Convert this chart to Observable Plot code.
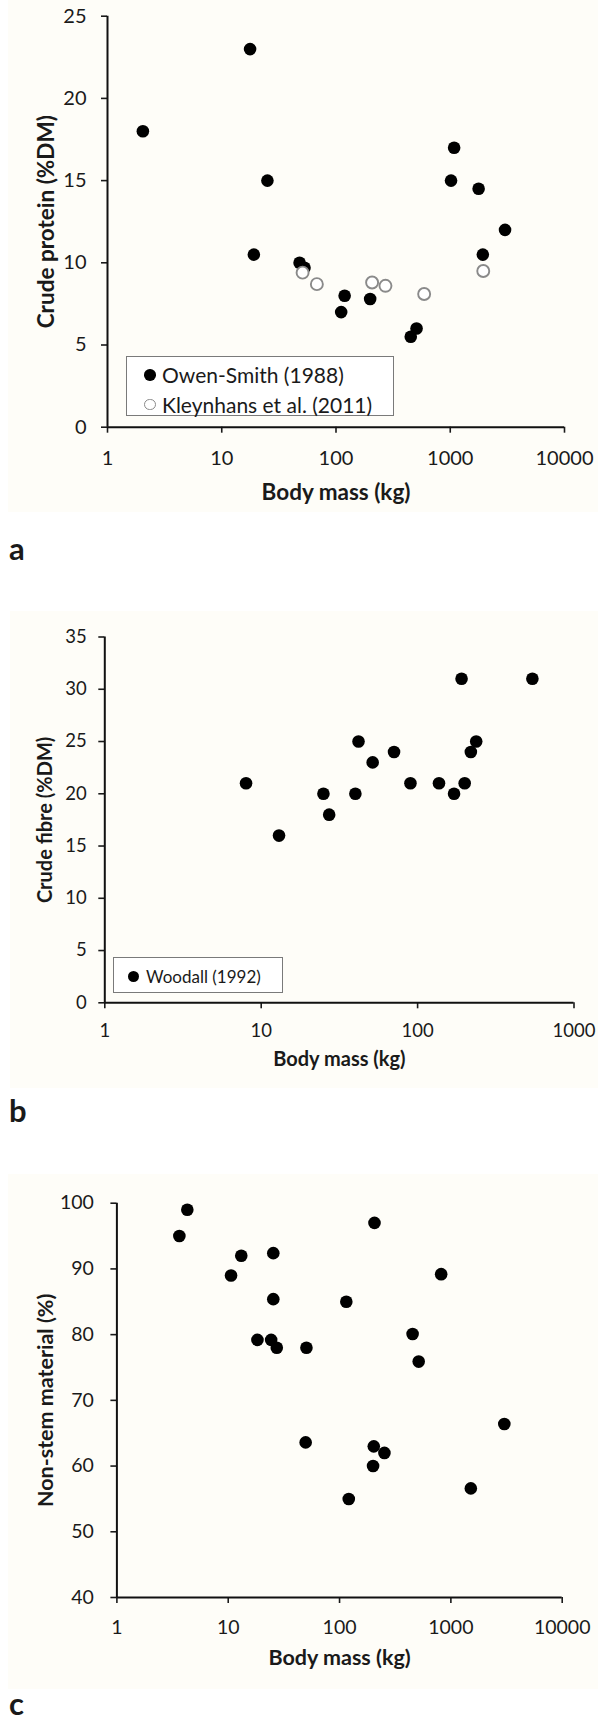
<!DOCTYPE html>
<html>
<head>
<meta charset="utf-8">
<script src="https://cdn.jsdelivr.net/npm/d3@7"></script>
<script src="https://cdn.jsdelivr.net/npm/@observablehq/plot@0.6"></script>
<style>
  html, body { margin: 0; padding: 0; background: #ffffff; }
  #root { position: relative; width: 598px; height: 1726px; overflow: hidden; font-family: Lato, "Open Sans", sans-serif; color: #1a1a1a; }
  .bg { position: absolute; background: #fefdf8; }
  .panel { position: absolute; left: 0; }
  .tag { position: absolute; font-weight: bold; font-size: 31px; line-height: 1; }
  .legend { position: absolute; border: 1.5px solid #7a7a7a; background: #ffffff; box-sizing: border-box; }
  .row { position: absolute; left: 0; white-space: nowrap; line-height: 1; }
  .mk { position: absolute; border-radius: 50%; box-sizing: border-box; }
</style>
</head>
<body>
<div id="root">
  <div class="bg" style="left:8px;top:0px;width:590px;height:512px"></div>
  <div class="bg" style="left:10px;top:611px;width:588px;height:477px"></div>
  <div class="bg" style="left:8px;top:1174px;width:590px;height:515px"></div>
</div>
<script>
// ---- Panel a: crude protein ----
const massOwenSmith = [2.04, 17.7, 19.1, 25.1, 48, 53, 111, 119, 199, 451, 507, 1016, 1081, 1771, 1928, 3017];
const proteinOwenSmith = [18, 23, 10.5, 15, 10, 9.7, 7, 8, 7.8, 5.5, 6, 15, 17, 14.5, 10.5, 12];
const massKleynhans = [51, 68, 207, 271, 591, 1945];
const proteinKleynhans = [9.4, 8.7, 8.8, 8.6, 8.1, 9.5];
const xTicksA = [1, 10, 100, 1000, 10000];
const yTicksA = [0, 5, 10, 15, 20, 25];

// ---- Panel b: crude fibre ----
const massWoodall = [8.0, 13.0, 25, 27.2, 40, 41.9, 51.6, 70.7, 90, 137, 171, 191, 200, 219, 237, 542];
const fibreWoodall = [21, 16, 20, 18, 20, 25, 23, 24, 21, 21, 20, 31, 21, 24, 25, 31];
const xTicksB = [1, 10, 100, 1000];
const yTicksB = [0, 5, 10, 15, 20, 25, 30, 35];

// ---- Panel c: non-stem material ----
const massNonStem = [3.64, 4.29, 10.6, 13.1, 18.3, 24.3, 25.4, 25.4, 27.3, 50.4, 49.6, 115, 121, 206, 203, 200, 253, 453, 514, 818, 1511, 3020];
const nonStem = [95, 99, 89, 92, 79.2, 79.2, 92.4, 85.4, 78, 78, 63.6, 85, 55, 97, 63, 60, 62, 80.1, 75.9, 89.2, 56.6, 66.4];
const xTicksC = [1, 10, 100, 1000, 10000];
const yTicksC = [40, 50, 60, 70, 80, 90, 100];

const legendA = ["Owen-Smith (1988)", "Kleynhans et al. (2011)"];
const legendB = ["Woodall (1992)"];
const panelTags = ["a", "b", "c"];

const zip = (xs, ys) => xs.map((x, i) => ({x, y: ys[i]}));
const root = document.getElementById("root");

function makePanel(cfg) {
  const marks = [
    Plot.axisX({ticks: cfg.xTicks, tickFormat: d => String(d), tickSize: 6, tickPadding: cfg.padX, strokeWidth: 1.6, color: "#1a1a1a", label: null, fontSize: cfg.tickFont}),
    Plot.axisY({ticks: cfg.yTicks, tickFormat: d => String(d), tickSize: 6, tickPadding: cfg.padY, strokeWidth: 1.6, color: "#1a1a1a", label: null, fontSize: cfg.tickFont}),
    Plot.ruleY([cfg.yDomain[0]], {stroke: "#111", strokeWidth: 2}),
    Plot.ruleX([cfg.xDomain[0]], {stroke: "#111", strokeWidth: 2}),
    ...cfg.dots,
    Plot.text([cfg.xLabel], {text: d => d, frameAnchor: "bottom", dy: cfg.xLabelDy, textAnchor: "middle", lineAnchor: "middle", fontSize: cfg.titleFont, fontWeight: "bold", fill: "#1a1a1a"}),
    Plot.text([cfg.yLabel], {text: d => d, frameAnchor: "left", dx: cfg.yLabelDx, rotate: -90, textAnchor: "middle", lineAnchor: "middle", fontSize: cfg.titleFont, fontWeight: "bold", fill: "#1a1a1a"})
  ];
  const svg = Plot.plot({
    width: 598,
    height: cfg.height,
    marginTop: cfg.mt, marginBottom: cfg.mb, marginLeft: cfg.ml, marginRight: cfg.mr,
    x: {type: "log", domain: cfg.xDomain},
    y: {domain: cfg.yDomain},
    style: {fontFamily: "Lato, 'Open Sans', sans-serif", fontSize: cfg.tickFont + "px", background: "transparent", overflow: "visible"},
    marks
  });
  svg.classList.add("panel");
  svg.style.top = cfg.top + "px";
  root.appendChild(svg);
}

// Panel a
makePanel({
  top: 0, height: 520, mt: 15.7, mb: 93.3, ml: 107, mr: 34,
  xDomain: [1, 10000], yDomain: [0, 25], xTicks: xTicksA, yTicks: yTicksA,
  padX: 18, padY: 15, xLabelDy: 65.3, yLabelDx: -60.5, tickFont: 20, titleFont: 22.5,
  xLabel: "Body mass (kg)", yLabel: "Crude protein (%DM)",
  dots: [
    Plot.dot(zip(massOwenSmith, proteinOwenSmith), {x: "x", y: "y", r: 6.3, fill: "#000", stroke: "none"}),
    Plot.dot(zip(massKleynhans, proteinKleynhans), {x: "x", y: "y", r: 6, fill: "#fff", stroke: "#8a8a8a", strokeWidth: 1.9})
  ]
});

// Panel b
makePanel({
  top: 600, height: 500, mt: 36.5, mb: 97.7, ml: 104.3, mr: 24.5,
  xDomain: [1, 1000], yDomain: [0, 35], xTicks: xTicksB, yTicks: yTicksB,
  padX: 15.5, padY: 12, xLabelDy: 56.7, yLabelDx: -59.3, tickFont: 18.5, titleFont: 20,
  xLabel: "Body mass (kg)", yLabel: "Crude fibre (%DM)",
  dots: [
    Plot.dot(zip(massWoodall, fibreWoodall), {x: "x", y: "y", r: 6.3, fill: "#000", stroke: "none"})
  ]
});

// Panel c
makePanel({
  top: 1170, height: 520, mt: 32.7, mb: 93, ml: 116.4, mr: 36.3,
  xDomain: [1, 10000], yDomain: [40, 100], xTicks: xTicksC, yTicks: yTicksC,
  padX: 17, padY: 17, xLabelDy: 61, yLabelDx: -70.4, tickFont: 19.5, titleFont: 21.5,
  xLabel: "Body mass (kg)", yLabel: "Non-stem material (%)",
  dots: [
    Plot.dot(zip(massNonStem, nonStem), {x: "x", y: "y", r: 6.3, fill: "#000", stroke: "none"})
  ]
});

// Legends (HTML overlays)
function legend(box, rows, fontSize) {
  const div = document.createElement("div");
  div.className = "legend";
  Object.assign(div.style, {left: box.x + "px", top: box.y + "px", width: box.w + "px", height: box.h + "px", fontSize: fontSize + "px"});
  rows.forEach(r => {
    const mk = document.createElement("div");
    mk.className = "mk";
    const d = r.size;
    Object.assign(mk.style, {left: (r.mx - box.x - d / 2) + "px", top: (r.cy - box.y - d / 2) + "px", width: d + "px", height: d + "px"});
    if (r.open) { mk.style.border = "1.6px solid #8a8a8a"; mk.style.background = "#fff"; }
    else { mk.style.background = "#000"; }
    div.appendChild(mk);
    const t = document.createElement("div");
    t.className = "row";
    t.textContent = r.label;
    Object.assign(t.style, {left: (r.tx - box.x) + "px", top: (r.cy - box.y - 12) + "px", height: "24px", lineHeight: "24px"});
    div.appendChild(t);
  });
  root.appendChild(div);
}
legend({x: 126, y: 356, w: 268, h: 60}, [
  {label: legendA[0], cy: 374, mx: 149, tx: 161, size: 11.5, open: false},
  {label: legendA[1], cy: 403.5, mx: 149, tx: 161, size: 11.5, open: true}
], 21);
legend({x: 113, y: 957, w: 170, h: 36}, [
  {label: legendB[0], cy: 975.5, mx: 132.7, tx: 145, size: 11.5, open: false}
], 17);

// Panel tags
const tagPos = [{x: 9, y: 533}, {x: 9, y: 1095}, {x: 9, y: 1688}];
panelTags.forEach((t, i) => {
  const el = document.createElement("div");
  el.className = "tag";
  el.textContent = t;
  el.style.left = tagPos[i].x + "px";
  el.style.top = tagPos[i].y + "px";
  root.appendChild(el);
});
</script>
</body>
</html>
